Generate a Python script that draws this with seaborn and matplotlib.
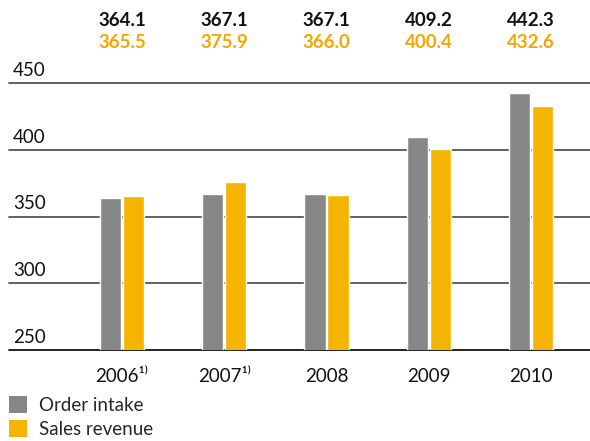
import pandas as pd
import matplotlib.pyplot as plt
import matplotlib.transforms as mtransforms
from matplotlib.patches import Patch
import seaborn as sns

# data
years = ["2006¹⁾", "2007¹⁾", "2008", "2009", "2010"]
order_intake = [364.1, 367.1, 367.1, 409.2, 442.3]
sales_revenue = [365.5, 375.9, 366.0, 400.4, 432.6]
series = ["Order intake", "Sales revenue"]
y_ticks = [250, 300, 350, 400, 450]

gray = "#878787"
yellow = "#F5B400"
orange_txt = "#F5A700"

df = pd.DataFrame({
    "Year": years * 2,
    "Value": order_intake + sales_revenue,
    "Series": [series[0]] * len(years) + [series[1]] * len(years),
})

sns.set_style("white")
plt.rcParams["font.family"] = ["Lato", "DejaVu Sans"]

fig = plt.figure(figsize=(5.9, 4.41), dpi=100)
ax = fig.add_axes([9 / 590, 1 - 350 / 441, 581 / 590, 267 / 441])

sns.barplot(data=df, x="Year", y="Value", hue="Series", order=years,
            palette=[gray, yellow], width=0.45, gap=0.08, ax=ax,
            legend=False, saturation=1)

ax.set_ylim(250, 450)
ax.set_xlim(-1.105, 4.577)
ax.set_xlabel("")
ax.set_ylabel("")
ax.set_yticks([])
for s in ["top", "right", "left", "bottom"]:
    ax.spines[s].set_visible(False)

# grid lines
for t in y_ticks:
    ax.axhline(t, color="#111111" if t == 250 else "#555555", lw=1.3, zorder=0,
               clip_on=False)
    ax.text(0.007, t + 3, str(t), transform=ax.get_yaxis_transform(),
            ha="left", va="bottom", fontsize=13.5, color="#111111")

ax.tick_params(axis="x", length=0, pad=13, labelsize=13.5, labelcolor="#111111")

# value labels above the plot
trans = mtransforms.blended_transform_factory(ax.transData, ax.transAxes)
for i in range(len(years)):
    ax.text(i, (350 - 20) / 267, f"{order_intake[i]:.1f}", transform=trans,
            ha="center", va="center", fontsize=13.5, fontweight="bold",
            color="#111111")
    ax.text(i, (350 - 43) / 267, f"{sales_revenue[i]:.1f}", transform=trans,
            ha="center", va="center", fontsize=13.5, fontweight="bold",
            color=orange_txt)

handles = [Patch(facecolor=gray, edgecolor="none"),
           Patch(facecolor=yellow, edgecolor="none")]
fig.legend(handles, series, loc="upper left",
           bbox_to_anchor=(9 / 590, 1 - 396 / 441), frameon=False,
           fontsize=13.5, handlelength=0.95, handleheight=1.05,
           handletextpad=0.65, labelspacing=0.3, borderpad=0,
           borderaxespad=0)

fig.savefig("out.png", dpi=100)
